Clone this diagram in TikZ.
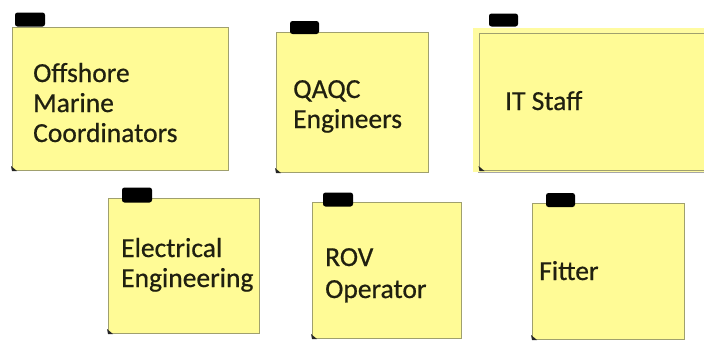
\documentclass[tikz,border=0pt]{standalone}
\usepackage{fontspec}
\setmainfont{Carlito}
\newfontfamily\notefont[FakeBold=0.6]{Carlito}
\definecolor{notey}{RGB}{255,251,150}
\definecolor{noteedge}{RGB}{160,160,110}
\definecolor{inkc}{RGB}{32,32,16}
\begin{document}
\begin{tikzpicture}[x=1pt,y=-1pt,
  note/.style={draw=noteedge,fill=notey,line width=0.8pt,inner sep=0pt,outer sep=0pt},
  tab/.style={fill=black,rounded corners=2.5pt,inner sep=0pt,outer sep=0pt},
  lbl/.style={inner sep=0pt,anchor=base west,text=inkc,font=\notefont\fontsize{27.5}{30}\selectfont},
  curl/.style={fill=black!85}]
\useasboundingbox (0,0) rectangle (704,343);
% notes
\node[note,minimum width=216pt,minimum height=143pt] (n1) at (120,98.5) {};
\node[note,minimum width=152pt,minimum height=140pt] (n2) at (352,102) {};
\fill[notey!90!white] (473,28) rectangle (704,172);
\node[note,minimum width=225pt,minimum height=137pt] (n3) at (592,101.5) {};
\draw[black!35,line width=1.2pt] (478,172.5) -- (704,172.5);
\node[note,minimum width=151pt,minimum height=135pt] (n4) at (183.5,265.5) {};
\node[note,minimum width=149pt,minimum height=136pt] (n5) at (386.5,270) {};
\node[note,minimum width=152pt,minimum height=136pt] (n6) at (608,271) {};
% corner curls
\foreach \n in {n1,n2,n3,n4,n5,n6}{
  \fill[curl] (\n.south west) ++(-1,-4) -- ++(6,5) -- ++(-5,0) -- cycle;
}
% tabs
\node[tab,minimum width=30pt,minimum height=14pt] (t1) at (30,19.5) {};
\node[tab,minimum width=29pt,minimum height=13pt] (t2) at (304.5,27.5) {};
\node[tab,minimum width=29pt,minimum height=13pt] (t3) at (503.5,20) {};
\node[tab,minimum width=30pt,minimum height=15pt] (t4) at (137,195) {};
\node[tab,minimum width=30pt,minimum height=14pt] (t5) at (338,199.5) {};
\node[tab,minimum width=29pt,minimum height=14pt] (t6) at (560.5,200) {};
% texts
\node[lbl] (l1a) at (33,82) {Offshore};
\node[lbl] (l1b) at (33,112) {Marine};
\node[lbl] (l1c) at (33,142) {Coordinators};
\node[lbl] (l2a) at (293,98) {QAQC};
\node[lbl] (l2b) at (293,128) {Engineers};
\node[lbl] (l3a) at (505,110) {IT Staff};
\node[lbl] (l4a) at (121,257) {Electrical};
\node[lbl] (l4b) at (121,287) {Engineering};
\node[lbl] (l5a) at (325,266) {ROV};
\node[lbl] (l5b) at (325,298) {Operator};
\node[lbl] (l6a) at (539,280) {Fitter};
\end{tikzpicture}
\end{document}
